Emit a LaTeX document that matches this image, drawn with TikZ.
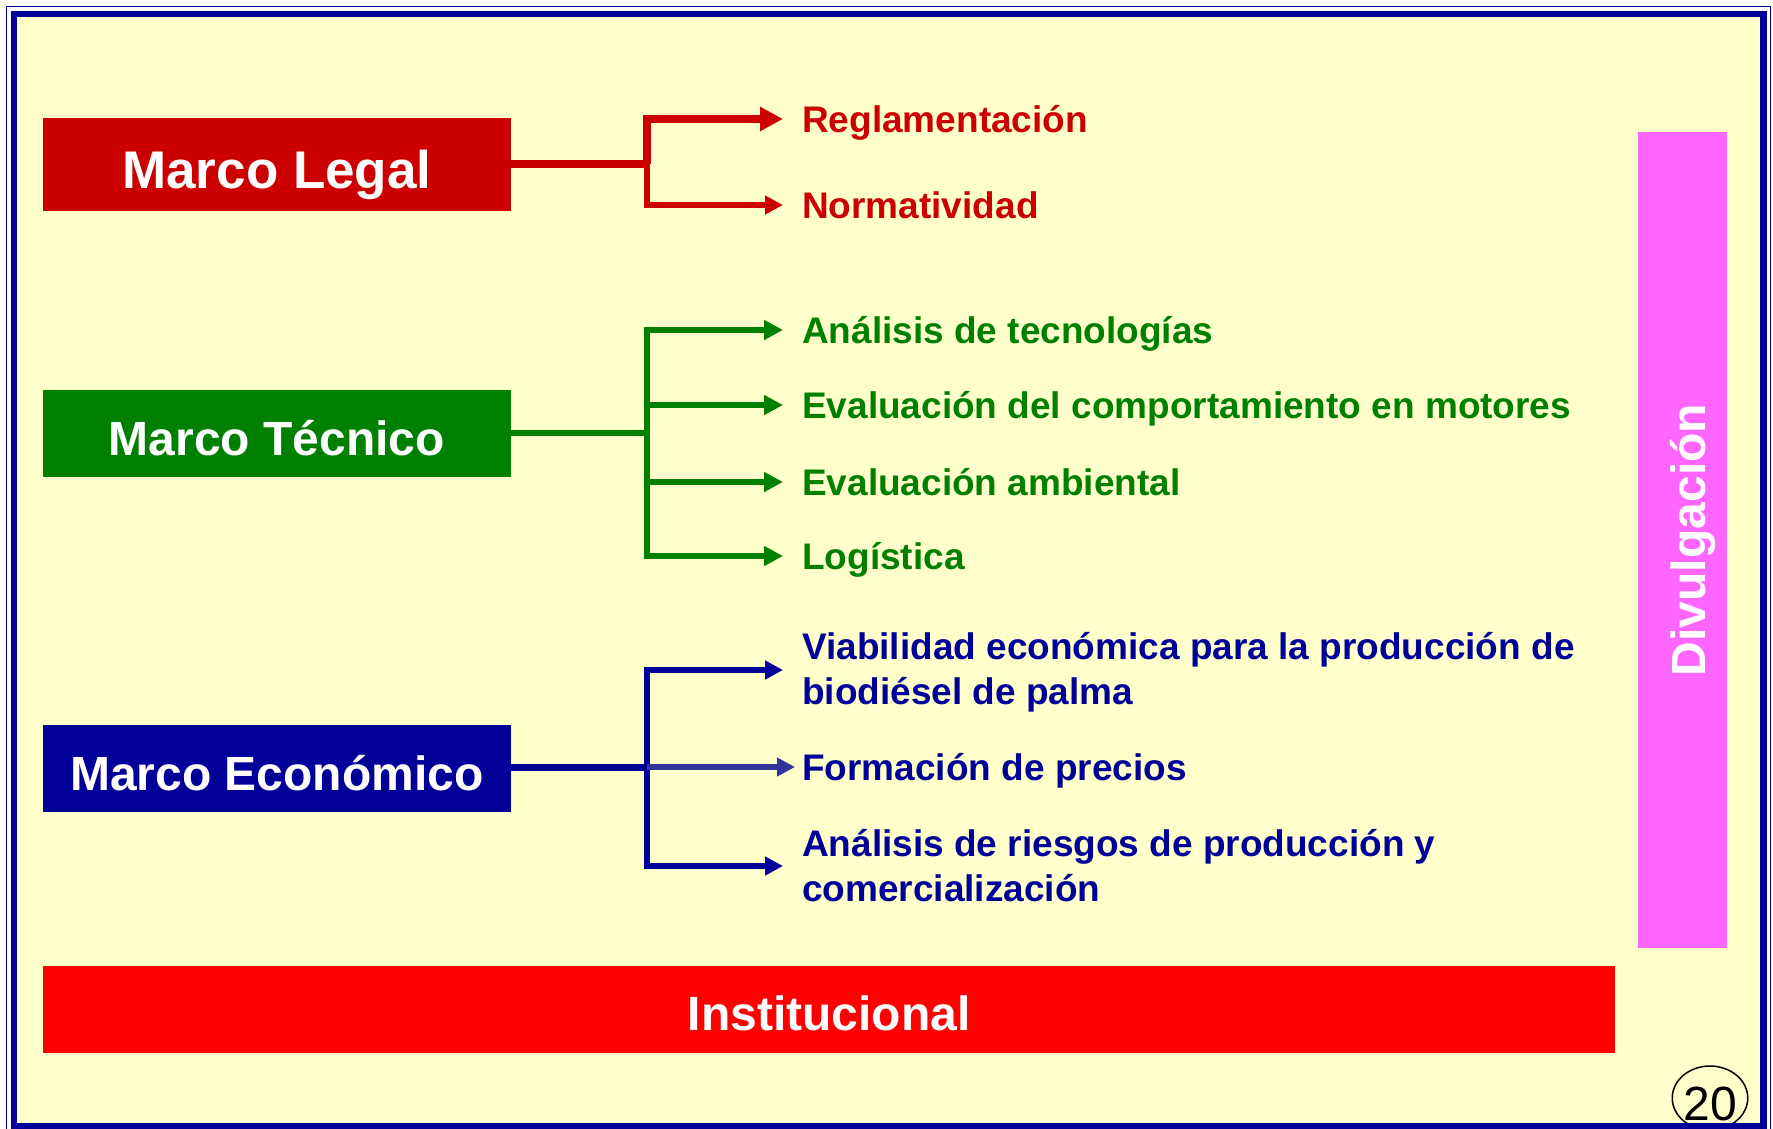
\documentclass[tikz,border=0pt]{standalone}
\usepackage{fontspec}
\setmainfont{Liberation Sans}
\usetikzlibrary{arrows.meta,shapes.geometric}
\definecolor{bgyellow}{HTML}{FFFFCC}
\definecolor{frameblue}{HTML}{000099}
\definecolor{legalred}{HTML}{CC0000}
\definecolor{tecgreen}{HTML}{008000}
\definecolor{ecoblue}{HTML}{000099}
\definecolor{midblue}{HTML}{333399}
\definecolor{instred}{HTML}{FF0000}
\definecolor{divpink}{HTML}{FF66FF}
\begin{document}
\begin{tikzpicture}[x=1pt,y=-1pt,
  marco/.style={rectangle, inner sep=0pt, minimum width=468pt, text=white, text depth=0pt},
  bigfont/.style={font=\fontsize{53}{60}\selectfont\bfseries},
  midfont/.style={font=\fontsize{48}{56}\selectfont\bfseries},
  lbl/.style={anchor=base west, inner sep=0pt, font=\fontsize{37}{45}\selectfont\bfseries},
  link/.style={line width=#1, line join=miter, line cap=butt},
  hd/.style={-{Triangle[length=#1,width=#1]}}
]
\useasboundingbox (0,0) rectangle (1773,1128);
\fill[white] (0,0) rectangle (1773,1128);
\draw[frameblue, line width=1.3pt] (6.5,6.5) rectangle (1770.5,1140);
\fill[bgyellow] (14,14) rectangle (1763.5,1126);
% page number
\node[ellipse, draw=black, line width=1.5pt, minimum width=75pt, minimum height=64pt, inner sep=0pt,
      font=\fontsize{48}{50}\selectfont, text height=44pt, text depth=0pt] (pg) at (1710,1098) {20};
\draw[frameblue, line width=6.5pt] (14,14) rectangle (1763.5,1126);

% boxes
\node[marco, bigfont, fill=legalred, minimum height=93pt, text height=48.5pt] (legal) at (277,164.5) {Marco Legal};
\node[marco, midfont, fill=tecgreen, minimum height=87pt, text height=44.4pt] (tec) at (277,433.5) {Marco Técnico};
\node[marco, midfont, fill=ecoblue, minimum height=87pt, text height=44.4pt] (eco) at (277,768.5) {Marco Económico};
\node[marco, midfont, fill=instred, minimum width=1572pt, minimum height=87pt, text height=42.4pt] (inst) at (829,1009.5) {Institucional};
\node[marco, midfont, fill=divpink, rotate=90, minimum width=816pt, minimum height=89pt, text height=45.4pt] (divu) at (1682.5,540) {Divulgación};

% labels
\node[lbl, text=legalred] (regl) at (802,132.3) {Reglamentación};
\node[lbl, text=legalred] (norm) at (802,218.3) {Normatividad};
\node[lbl, text=tecgreen] (anat) at (802,343.3) {Análisis de tecnologías};
\node[lbl, text=tecgreen] (evmo) at (802,418.3) {Evaluación del comportamiento en motores};
\node[lbl, text=tecgreen] (evam) at (802,495.3) {Evaluación ambiental};
\node[lbl, text=tecgreen] (logi) at (802,569.3) {Logística};
\node[lbl, text=ecoblue] (viab) at (802,659.8) {\parbox[t]{820pt}{\raggedright Viabilidad económica para la producción de\\biodiésel de palma}};
\node[lbl, text=ecoblue] (prec) at (802,780.3) {Formación de precios};
\node[lbl, text=ecoblue] (ries) at (802,856.8) {\parbox[t]{820pt}{\raggedright Análisis de riesgos de producción y\\comercialización}};

% junctions and tips
\coordinate (jL) at (647,164);
\coordinate (tR1) at (783,119);
\coordinate (tR2) at (783,205);
\coordinate (jT) at (647,433);
\coordinate (tG1) at (783,330);
\coordinate (tG2) at (783,405);
\coordinate (tG3) at (783,482);
\coordinate (tG4) at (783,556);
\coordinate (jE) at (647,767);
\coordinate (tE1) at (783,670);
\coordinate (tE2) at (795,767);
\coordinate (tE3) at (783,866);

% red connectors
\draw[legalred, link=8pt] (legal.east |- jL) -- ([xshift=3pt]jL);
\draw[legalred, link=8pt, hd=23pt] (jL) |- (tR1);
\draw[legalred, link=5.5pt, hd=18pt] (jL) |- (tR2);

% green connectors
\draw[tecgreen, link=5.5pt] (tec.east |- jT) -- ([xshift=2.5pt]jT);
\draw[tecgreen, link=5.5pt, hd=19pt] (jT) |- (tG1);
\draw[tecgreen, link=5.5pt, hd=19pt] (jT) |- (tG2);
\draw[tecgreen, link=5.5pt, hd=19pt] (jT) |- (tG3);
\draw[tecgreen, link=5.5pt, hd=19pt] (jT) |- (tG4);

% blue connectors
\draw[ecoblue, link=7pt] (eco.east |- jE) -- (jE);
\draw[ecoblue, link=5.5pt, hd=18pt] (jE) |- (tE1);
\draw[ecoblue, link=5.5pt, hd=18pt] (jE) |- (tE3);
\draw[midblue, link=6pt, hd=18pt] (jE) -- (tE2);
\end{tikzpicture}
\end{document}
